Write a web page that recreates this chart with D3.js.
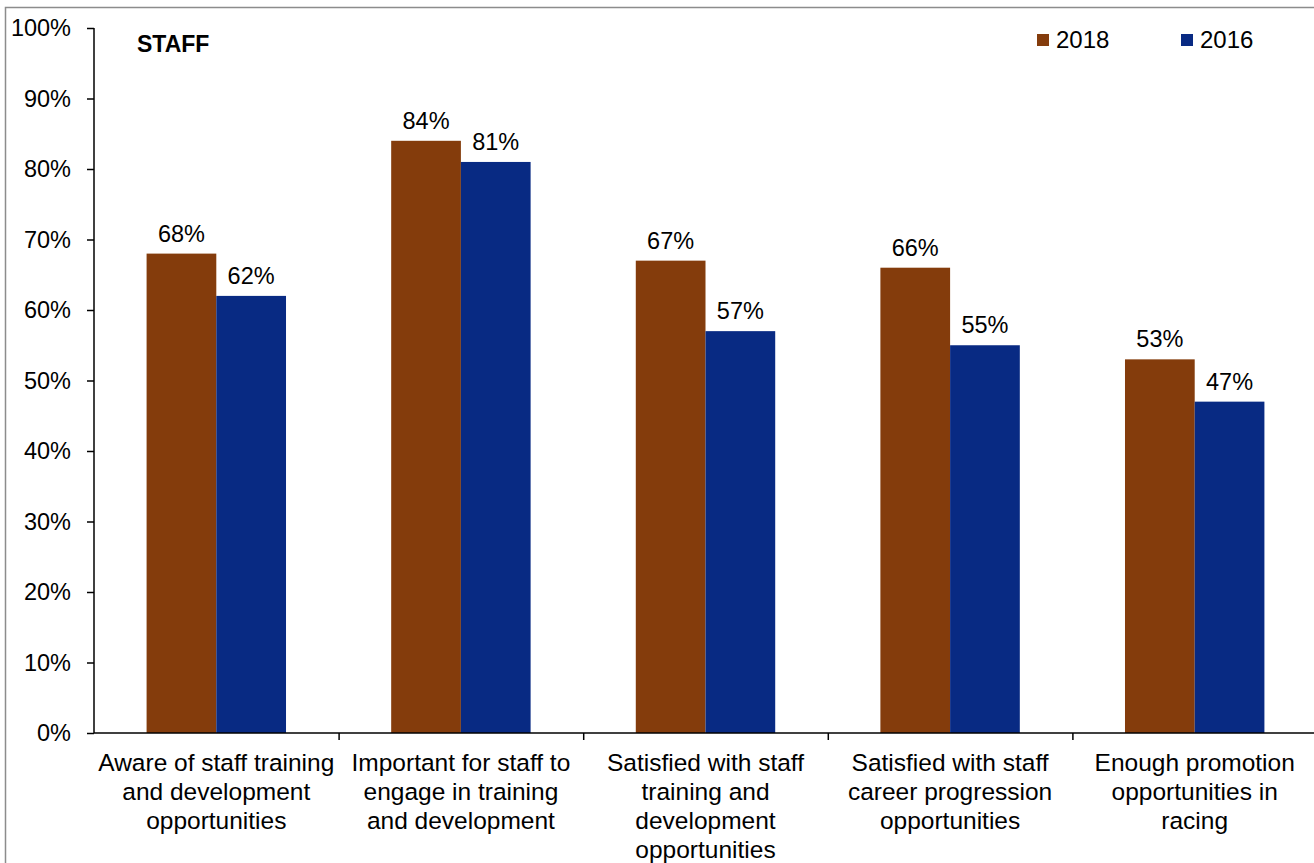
<!DOCTYPE html>
<html>
<head>
<meta charset="utf-8">
<script src="https://cdn.jsdelivr.net/npm/d3@7"></script>
<style>
  html, body { margin: 0; padding: 0; background: #fff; }
  svg { display: block; font-family: "Liberation Sans", Arial, sans-serif; }
</style>
</head>
<body>
<svg id="chart" width="1314" height="863"></svg>
<script>
// Survey results: staff attitudes to training and progression
const categories = [
  ["Aware of staff training", "and development", "opportunities"],
  ["Important for staff to", "engage in training", "and development"],
  ["Satisfied with staff", "training and", "development", "opportunities"],
  ["Satisfied with staff", "career progression", "opportunities"],
  ["Enough promotion", "opportunities in", "racing"]
];
const seriesNames = ["2018", "2016"];
const values2018 = [68, 84, 67, 66, 53];
const values2016 = [62, 81, 57, 55, 47];
const yTicks = [0, 10, 20, 30, 40, 50, 60, 70, 80, 90, 100];

const colors = { "2018": "#843C0C", "2016": "#082A83" };

const svg = d3.select("#chart");
const W = 1314, H = 863;

// outer frame
svg.append("rect")
  .attr("x", 5.5).attr("y", 7.5)
  .attr("width", W + 10).attr("height", H + 10)
  .attr("fill", "#fff").attr("stroke", "#8c8c8c").attr("stroke-width", 1.5);

const plotLeft = 94, plotTop = 28, plotBottom = 733;
const bandW = 244.6;
const plotRight = plotLeft + bandW * categories.length;

const idx = categories.map((d, i) => i);
const x = d3.scaleBand().domain(idx).range([plotLeft, plotRight]).paddingInner(0.43).paddingOuter(0.215);
const xs = d3.scaleBand().domain(seriesNames).range([0, x.bandwidth()]);
const y = d3.scaleLinear().domain([0, 100]).range([plotBottom, plotTop]);

const data = idx.map(i => ({ i, vals: [
  { s: "2018", v: values2018[i] },
  { s: "2016", v: values2016[i] }
]}));

// bars
const groups = svg.append("g").selectAll("g").data(data).join("g")
  .attr("transform", d => `translate(${x(d.i)},0)`);
groups.selectAll("rect").data(d => d.vals).join("rect")
  .attr("x", d => xs(d.s))
  .attr("y", d => y(d.v))
  .attr("width", xs.bandwidth())
  .attr("height", d => y(0) - y(d.v))
  .attr("fill", d => colors[d.s]);

// value labels
groups.selectAll("text").data(d => d.vals).join("text")
  .attr("x", d => xs(d.s) + xs.bandwidth() / 2)
  .attr("y", d => y(d.v) - 12)
  .attr("text-anchor", "middle")
  .attr("font-size", 23.5)
  .attr("fill", "#000")
  .text(d => d.v + "%");

// y axis
const yAxis = d3.axisLeft(y).tickValues(yTicks).tickFormat(d => d + "%").tickSize(7).tickPadding(16);
const gy = svg.append("g").attr("transform", `translate(${plotLeft},0)`).call(yAxis);
gy.select(".domain").attr("stroke", "#000").attr("stroke-width", 1.5).attr("d", `M0,${plotTop}V${plotBottom}`);
gy.selectAll(".tick line").attr("stroke", "#000").attr("stroke-width", 1.5);
gy.selectAll(".tick text").attr("font-size", 23.5).attr("fill", "#000")
  .attr("font-family", "Liberation Sans, Arial, sans-serif");

// x axis line with boundary ticks between categories
const xb = d3.scaleLinear().domain([0, categories.length]).range([plotLeft, plotRight]);
const gx = svg.append("g").attr("transform", `translate(0,${plotBottom})`)
  .call(d3.axisBottom(xb).tickValues(d3.range(1, categories.length)).tickSize(7).tickFormat(""));
gx.select(".domain").attr("stroke", "#000").attr("stroke-width", 1.5).attr("d", `M${plotLeft},0H${plotRight}`);
gx.selectAll(".tick line").attr("stroke", "#000").attr("stroke-width", 1.5);

// category labels
const catG = svg.append("g").selectAll("text").data(idx).join("text")
  .attr("x", i => x(i) + x.bandwidth() / 2)
  .attr("y", plotBottom + 38)
  .attr("text-anchor", "middle")
  .attr("font-size", 24.5)
  .attr("fill", "#000");
catG.selectAll("tspan").data(i => categories[i]).join("tspan")
  .attr("x", function () { return d3.select(this.parentNode).attr("x"); })
  .attr("dy", (d, j) => j === 0 ? 0 : 29)
  .text(d => d);

// title
svg.append("text").attr("x", 137).attr("y", 52)
  .attr("font-size", 23).attr("font-weight", "bold").attr("fill", "#000")
  .text("STAFF");

// legend
const legendX = [1037, 1181];
const lg = svg.append("g").selectAll("g").data(seriesNames).join("g")
  .attr("transform", (d, i) => `translate(${legendX[i]},34)`);
lg.append("rect").attr("width", 12).attr("height", 12).attr("fill", d => colors[d]);
lg.append("text").attr("x", 19).attr("y", 14).attr("font-size", 24).attr("fill", "#000").text(d => d);
</script>
</body>
</html>
